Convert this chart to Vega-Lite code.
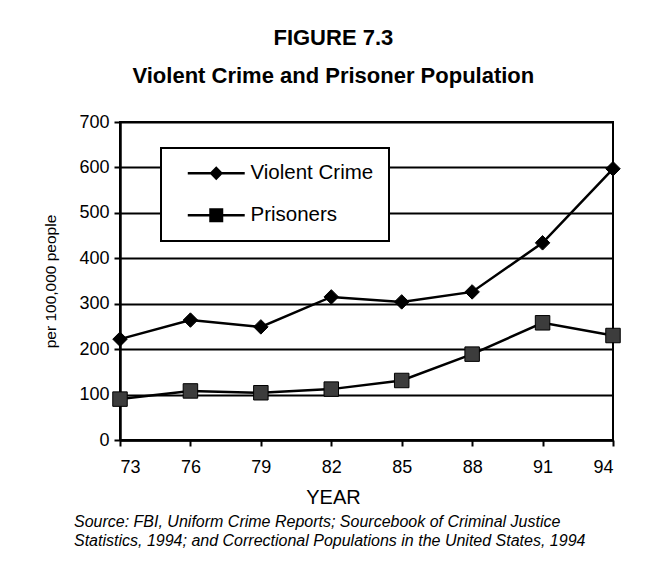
{
  "$schema": "https://vega.github.io/schema/vega-lite/v6.json",
  "padding": {"left": 42, "top": 27, "right": 5, "bottom": 5},
  "background": "white",
  "config": {
    "font": "Liberation Sans",
    "view": {"stroke": "black", "strokeWidth": 2},
    "concat": {"spacing": 0},
    "legend": {"strokeWidth": 2}
  },
  "title": {
    "text": ["FIGURE 7.3", "Violent Crime and Prisoner Population"],
    "fontSize": 22,
    "fontWeight": "bold",
    "font": "Liberation Sans",
    "lineHeight": 38,
    "color": "black",
    "anchor": "middle",
    "offset": 24
  },
  "vconcat": [
    {
      "width": 493,
      "height": 318,
      "title": {
        "text": ["Source: FBI, Uniform Crime Reports; Sourcebook of Criminal Justice", "Statistics, 1994; and Correctional Populations in the United States, 1994"],
        "orient": "bottom",
        "anchor": "start",
        "frame": "group",
        "dx": -46,
        "fontSize": 16,
        "fontStyle": "italic",
        "fontWeight": "normal",
        "font": "Liberation Sans",
        "lineHeight": 19,
        "offset": 7,
        "color": "black"
      },
      "data": {
        "values": [
          {"year": 73, "series": "Violent Crime", "value": 222},
          {"year": 76, "series": "Violent Crime", "value": 264},
          {"year": 79, "series": "Violent Crime", "value": 249},
          {"year": 82, "series": "Violent Crime", "value": 315},
          {"year": 85, "series": "Violent Crime", "value": 304},
          {"year": 88, "series": "Violent Crime", "value": 326},
          {"year": 91, "series": "Violent Crime", "value": 434},
          {"year": 94, "series": "Violent Crime", "value": 597},
          {"year": 73, "series": "Prisoners", "value": 90},
          {"year": 76, "series": "Prisoners", "value": 108},
          {"year": 79, "series": "Prisoners", "value": 104},
          {"year": 82, "series": "Prisoners", "value": 112},
          {"year": 85, "series": "Prisoners", "value": 131},
          {"year": 88, "series": "Prisoners", "value": 189},
          {"year": 91, "series": "Prisoners", "value": 258},
          {"year": 94, "series": "Prisoners", "value": 230}
        ]
      },
      "encoding": {
        "x": {
          "field": "year",
          "type": "quantitative",
          "scale": {"domain": [73, 94], "nice": false, "zero": false},
          "axis": {
            "title": "YEAR",
            "values": [73, 76, 79, 82, 85, 88, 91, 94],
            "format": "d",
            "grid": false,
            "domainColor": "black",
            "domainWidth": 2.5,
            "tickColor": "black",
            "tickWidth": 2,
            "tickSize": 6,
            "labelFontSize": 18,
            "labelColor": "black",
            "labelPadding": 12,
            "labelFont": "Liberation Sans",
            "titleFont": "Liberation Sans",
            "titleFontSize": 20,
            "titleFontWeight": "normal",
            "titleColor": "black",
            "titleX": 213,
            "titleY": 57,
            "titleBaseline": "middle"
          }
        },
        "y": {
          "field": "value",
          "type": "quantitative",
          "scale": {"domain": [0, 700], "nice": false},
          "axis": {
            "title": "per 100,000 people",
            "values": [0, 100, 200, 300, 400, 500, 600, 700],
            "grid": true,
            "gridColor": "black",
            "gridWidth": 2,
            "gridOpacity": 1,
            "domainColor": "black",
            "domainWidth": 2.5,
            "tickColor": "black",
            "tickWidth": 2,
            "tickSize": 6,
            "labelFontSize": 18,
            "labelColor": "black",
            "labelPadding": 5,
            "labelFont": "Liberation Sans",
            "titleFont": "Liberation Sans",
            "titleFontSize": 15.5,
            "titleFontWeight": "normal",
            "titleColor": "black",
            "titlePadding": 20
          }
        }
      },
      "resolve": {"scale": {"shape": "independent"}},
      "layer": [
        {
          "mark": {"type": "line", "color": "black", "strokeWidth": 2.5},
          "encoding": {"detail": {"field": "series"}}
        },
        {
          "mark": {"type": "point", "filled": true, "size": 210, "stroke": "black", "strokeWidth": 1, "opacity": 1},
          "encoding": {
            "shape": {
              "field": "series",
              "type": "nominal",
              "scale": {"domain": ["Violent Crime", "Prisoners"], "range": ["diamond", "square"]},
              "legend": null
            },
            "fill": {
              "field": "series",
              "type": "nominal",
              "scale": {"domain": ["Violent Crime", "Prisoners"], "range": ["black", "#3c3c3c"]},
              "legend": null
            }
          }
        },
        {
          "mark": {"type": "point", "filled": true, "opacity": 0},
          "encoding": {
            "fill": {
              "field": "series",
              "type": "nominal",
              "scale": {"domain": ["Violent Crime", "Prisoners"], "range": ["black", "#3c3c3c"]}
            },
            "shape": {
              "field": "series",
              "type": "nominal",
              "scale": {
                "domain": ["Violent Crime", "Prisoners"],
                "range": [
                  "M-3.56,-0.16H-0.7L0,-0.875L0.7,-0.16H3.56V0.16H0.7L0,0.875L-0.7,0.16H-3.56Z",
                  "M-3.56,-0.16H-0.875V-0.875H0.875V-0.16H3.56V0.16H0.875V0.875H-0.875V0.16H-3.56Z"
                ]
              },
              "legend": {
                "title": null,
                "orient": "none",
                "legendX": 41,
                "legendY": 26,
                "fillColor": "white",
                "strokeColor": "black",
                "padding": 15,
                "symbolSize": 256,
                "symbolOffset": 30,
                "symbolOpacity": 1,
                "labelOffset": 24,
                "labelFontSize": 20.5,
                "labelColor": "black",
                "labelFont": "Liberation Sans",
                "rowPadding": 21
              }
            }
          }
        }
      ]
    }
  ]
}
